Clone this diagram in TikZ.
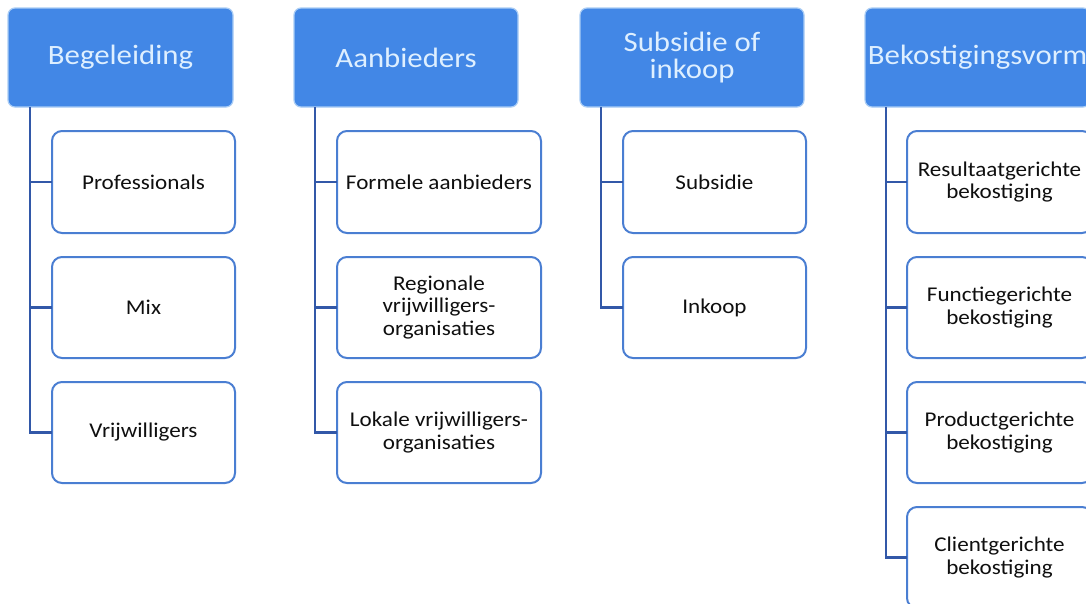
\documentclass[tikz,border=0pt]{standalone}
\usepackage{fontspec}
\setmainfont{Carlito}[FakeStretch=1.1]
\usetikzlibrary{calc}
\definecolor{hdrfill}{RGB}{66,135,230}
\definecolor{hdredge}{RGB}{170,205,245}
\definecolor{hdrtext}{RGB}{222,239,255}
\definecolor{boxline}{RGB}{74,126,210}
\definecolor{conn}{RGB}{50,88,168}
\definecolor{boxtext}{RGB}{15,15,15}
\tikzset{
  hdr/.style={rectangle, rounded corners=7pt, fill=hdrfill, draw=hdredge, line width=1.2pt,
    inner sep=0pt, outer sep=0pt, minimum height=99pt, text=hdrtext, align=center,
    font=\fontsize{28}{27}\selectfont},
  child/.style={rectangle, rounded corners=10pt, fill=white, draw=boxline, line width=2pt,
    inner sep=0pt, outer sep=0pt, text=boxtext, align=center,
    font=\fontsize{21}{22.5}\selectfont},
  connector/.style={draw=conn, line width=2.6pt}
}
\begin{document}
\begin{tikzpicture}[x=1pt,y=-1pt]
\clip (0,0) rectangle (1086,603);
\fill[white] (0,0) rectangle (1086,603);
% headers
\node[hdr, minimum width=225pt] (h1) at (120.5,57.5) {Begeleiding};
\node[hdr, minimum width=224pt] (h2) at (406,57.5) {Aanbieders};
\node[hdr, minimum width=224pt] (h3) at (692,57.5) {Subsidie of\\inkoop};
\node[hdr, minimum width=225pt] (h4) at (977.5,57.5) {Bekostigingsvorm};
% column 1
\node[child, minimum width=183pt, minimum height=102pt] (c11) at (143.5,182) {Professionals};
\node[child, minimum width=183pt, minimum height=101pt] (c12) at (143.5,307.5) {Mix};
\node[child, minimum width=183pt, minimum height=101pt] (c13) at (143.5,432.5) {Vrijwilligers};
% column 2
\node[child, minimum width=204pt, minimum height=102pt] (c21) at (439,182) {Formele aanbieders};
\node[child, minimum width=204pt, minimum height=101pt] (c22) at (439,307.5) {Regionale\\vrijwilligers-\\organisaties};
\node[child, minimum width=204pt, minimum height=101pt] (c23) at (439,432.5) {Lokale vrijwilligers-\\organisaties};
% column 3
\node[child, minimum width=183pt, minimum height=102pt] (c31) at (714.5,182) {Subsidie};
\node[child, minimum width=183pt, minimum height=101pt] (c32) at (714.5,307.5) {Inkoop};
% column 4
\node[child, minimum width=185pt, minimum height=102pt] (c41) at (999.5,182) {Resultaatgerichte\\bekostiging};
\node[child, minimum width=185pt, minimum height=101pt] (c42) at (999.5,307.5) {Functiegerichte\\bekostiging};
\node[child, minimum width=185pt, minimum height=101pt] (c43) at (999.5,432.5) {Productgerichte\\bekostiging};
\node[child, minimum width=185pt, minimum height=101pt] (c44) at (999.5,557.5) {Clientgerichte\\bekostiging};
% connectors
\coordinate (t1) at ($(h1.south west)+(22,0)$);
\coordinate (t2) at ($(h2.south west)+(21,0)$);
\coordinate (t3) at ($(h3.south west)+(21,0)$);
\coordinate (t4) at ($(h4.south west)+(21,0)$);
\foreach \c in {c11,c12,c13}{\draw[connector] (t1) |- (\c.west);}
\foreach \c in {c21,c22,c23}{\draw[connector] (t2) |- (\c.west);}
\foreach \c in {c31,c32}{\draw[connector] (t3) |- (\c.west);}
\foreach \c in {c41,c42,c43,c44}{\draw[connector] (t4) |- (\c.west);}
\end{tikzpicture}
\end{document}
